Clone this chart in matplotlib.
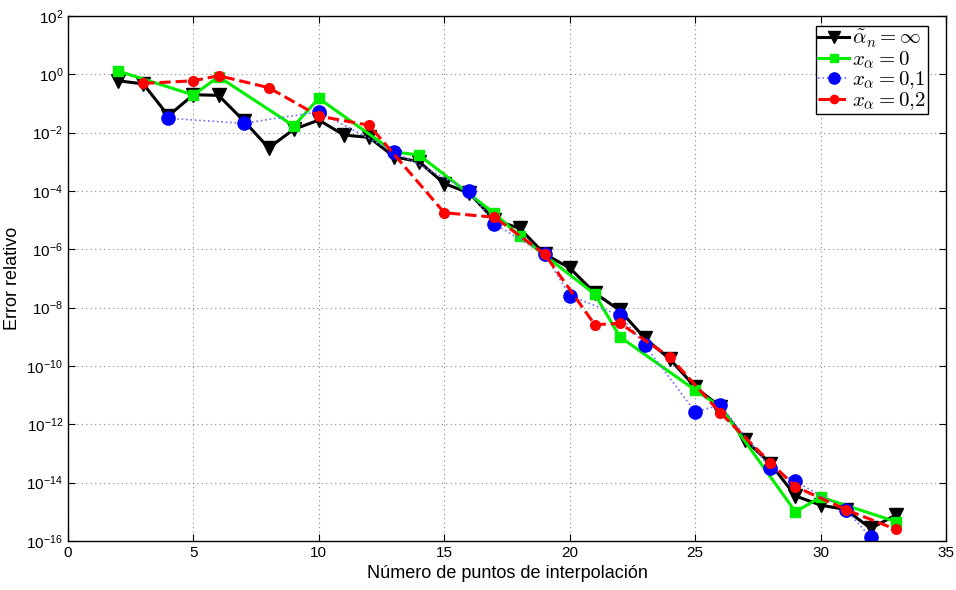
import matplotlib
matplotlib.use("Agg")
import matplotlib.pyplot as plt
import numpy as np

plt.rcParams['font.family'] = ['Liberation Sans', 'DejaVu Sans']
plt.rcParams['mathtext.fontset'] = 'cm'

# alpha_n = infinity (black)
x_inf = [2, 3, 4, 5, 6, 7, 8, 9, 10, 11, 12, 13, 14, 15, 16, 17, 18, 19, 20, 21,
         22, 23, 24, 25, 26, 27, 28, 29, 30, 31, 32, 33]
y_inf = [0.6, 0.47, 0.038, 0.2, 0.19, 0.026, 0.003, 0.013, 0.027, 0.0083, 0.0069,
         0.0015, 0.001, 1.8e-4, 8.5e-5, 1.0e-5, 5.3e-6, 6.9e-7, 2.3e-7, 3.2e-8,
         8e-9, 8.9e-10, 1.7e-10, 1.9e-11, 4e-12, 2.9e-13, 4.5e-14, 3.5e-15,
         1.7e-15, 1.2e-15, 2.7e-16, 7.8e-16]

# x_alpha = 0 (green)
x_0 = [2, 5, 6, 9, 10, 13, 14, 17, 18, 21, 22, 25, 26, 29, 30, 33]
y_0 = [1.3, 0.195, 0.83, 0.017, 0.15, 0.0022, 0.0017, 1.7e-5, 2.9e-6, 2.9e-8,
       1e-9, 1.5e-11, 4e-12, 1.0e-15, 3.2e-15, 4.6e-16]

# x_alpha = 0,1 (blue)
x_01 = [4, 7, 10, 13, 16, 17, 19, 20, 22, 23, 25, 26, 28, 29, 31, 32]
y_01 = [0.031, 0.021, 0.052, 0.0022, 1.0e-4, 7.4e-6, 6.9e-7, 2.6e-8, 5.4e-9,
        5.2e-10, 2.7e-12, 4.6e-12, 3.1e-14, 1.1e-14, 1.2e-15, 1.35e-16]

# x_alpha = 0,2 (red)
x_02 = [3, 5, 6, 8, 10, 12, 15, 17, 19, 21, 22, 24, 26, 28, 29, 31, 33]
y_02 = [0.49, 0.6, 0.9, 0.35, 0.037, 0.018, 1.8e-5, 1.26e-5, 6.9e-7, 2.6e-9,
        2.9e-9, 2.0e-10, 2.5e-12, 4.9e-14, 7.3e-15, 1.2e-15, 2.5e-16]

labels = [r'$\tilde{\alpha}_n = \infty$', r'$x_\alpha = 0$',
          r'$x_\alpha = 0{,}1$', r'$x_\alpha = 0{,}2$']

xticks = [0, 5, 10, 15, 20, 25, 30, 35]
yticks = [10.0**k for k in range(-16, 3, 2)]

fig = plt.figure(figsize=(9.56, 5.90), dpi=100)
ax = fig.add_axes([68/956, 1-541/590, (946-68)/956, (541-16)/590])

ax.semilogy(x_inf, y_inf, '-', color='black', lw=2.2, marker='v', ms=9.5,
            label=labels[0])
ax.semilogy(x_0, y_0, '-', color='#00ee00', lw=2.2, marker='s', ms=7.5,
            label=labels[1])
ax.semilogy(x_01, y_01, ':', color='#7070ff', lw=1.2, marker='o', ms=9.5,
            mfc='#0000ff', mec='#0000ff', label=labels[2])
ax.semilogy(x_02, y_02, '--', color='#ff0000', lw=2.2, marker='o', ms=7,
            label=labels[3])

ax.set_xlim(0, 35)
ax.set_ylim(1e-16, 1e2)
ax.set_xticks(xticks)
ax.set_yticks(yticks)
ax.yaxis.set_minor_locator(matplotlib.ticker.NullLocator())
ax.tick_params(direction='in', top=True, right=True, labelsize=11, length=5)
ax.grid(True, which='major', linestyle=(0, (1, 3)), color='#888888', lw=0.8)
for s in ax.spines.values():
    s.set_linewidth(1.0)

ax.set_xlabel('Número de puntos de interpolación', fontsize=13, labelpad=4)
ax.set_ylabel('Error relativo', fontsize=13, labelpad=4)

leg = ax.legend(loc='upper right', bbox_to_anchor=((928-68)/878, (541-26)/525),
                fontsize=15, frameon=True, fancybox=False,
                edgecolor='black', handlelength=1.5, handletextpad=0.15,
                borderpad=0.1, labelspacing=-0.05, borderaxespad=0.0,
                framealpha=1, markerscale=0.85)
leg.get_frame().set_linewidth(1.0)

fig.savefig('out.png', dpi=100)
